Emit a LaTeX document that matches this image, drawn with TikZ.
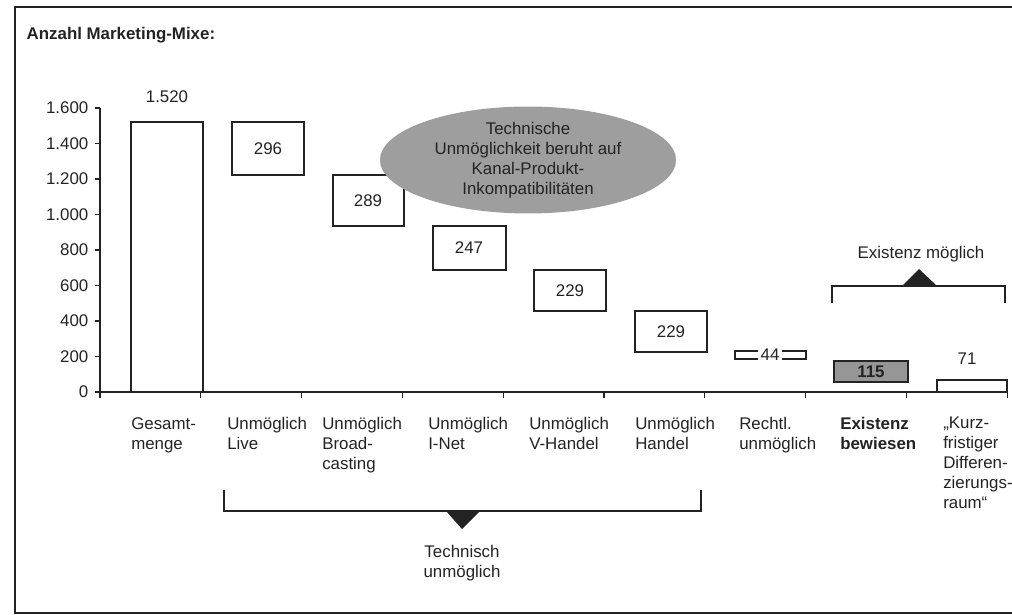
\documentclass[tikz,border=0pt]{standalone}
\usepackage{fontspec}
\setmainfont{Liberation Sans}
\usepackage{xcolor}
\usetikzlibrary{shapes.geometric, positioning}
\definecolor{bargray}{RGB}{150,150,150}
\definecolor{ellgray}{RGB}{158,158,158}
\definecolor{textdark}{RGB}{35,35,35}

\tikzset{
  txt/.style={font=\fontsize{12}{14.2}\selectfont, text=textdark, inner sep=1pt},
  catlabel/.style={txt, anchor=north west, align=left, inner sep=0pt},
  bar/.style={draw=textdark, line width=0.8pt},
  axisline/.style={draw=textdark, line width=0.8pt},
  bracket/.style={draw=textdark, line width=0.8pt}
}

\begin{document}
\begin{tikzpicture}[x=0.025cm, y=-0.025cm]
        \useasboundingbox (0,0) rectangle (1012,615);

        % Frame
        \draw[line width=1.6pt, textdark] (1030,7) -- (15,7) -- (15,613) -- (1030,613);
        \node[txt, font=\fontsize{12}{14.2}\selectfont\bfseries, anchor=base west] (title) at (25,40) {Anzahl Marketing-Mixe:};

        % Axes
        \draw[axisline] (100,108) -- (100,392) -- (1008,392);
        \foreach \v/\t in {0/0, 200/200, 400/400, 600/600, 800/800, 1000/1.000, 1200/1.200, 1400/1.400, 1600/1.600} {
            \draw[axisline] (95,{392-0.1775*\v}) -- (100,{392-0.1775*\v});
            \node[txt, anchor=east] (tick\v) at (90,{392-0.1775*\v}) {\t};
        }
        \foreach \i in {0,...,9} {
            \draw[axisline] ({100+100.8*\i},392) -- ++(0,6);
        }

        % Bars
        \draw[bar, fill=white] (131,122) rectangle (203,392);
        \node[txt] (v1520) at (167,97) {1.520};
        \draw[bar, fill=white] (232,122) rectangle (304,175);
        \node[txt] (v296) at (268,149) {296};
        \draw[bar, fill=white] (333,175) rectangle (404,226);
        \node[txt] (v289) at (368,201) {289};
        \draw[bar, fill=white] (433,226) rectangle (506,270);
        \node[txt] (v247) at (469,248) {247};
        \draw[bar, fill=white] (534,270) rectangle (606,311);
        \node[txt] (v229a) at (570,291) {229};
        \draw[bar, fill=white] (635,311) rectangle (707,352);
        \node[txt] (v229b) at (671,332) {229};
        \draw[bar, fill=white] (735,351) rectangle (806,359);
        \node[txt, fill=white, inner sep=2pt] (v44) at (770,355) {44};
        \draw[bar, fill=bargray] (834,361) rectangle (908,382);
        \node[txt, font=\fontsize{12}{14.2}\selectfont\bfseries] (v115) at (871,371.5) {115};
        \draw[bar, fill=white] (937,380) rectangle (1007,392);
        \node[txt] (v71) at (967,359) {71};

        % Ellipse
        \node[ellipse, fill=ellgray, minimum width=7.4cm, minimum height=2.5cm, align=center,
              font=\fontsize{12}{14.2}\selectfont, text=textdark, inner sep=0pt] (reason) at (528,160)
              {Technische\\Unmöglichkeit beruht auf\\Kanal-Produkt-\\Inkompatibilitäten};

        % Category labels
        \node[catlabel] (cat1) at (131,417) {Gesamt-\\menge};
        \node[catlabel] (cat2) at (227,417) {Unmöglich\\Live};
        \node[catlabel] (cat3) at (322,417) {Unmöglich\\Broad-\\casting};
        \node[catlabel] (cat4) at (428,417) {Unmöglich\\I-Net};
        \node[catlabel] (cat5) at (529,417) {Unmöglich\\V-Handel};
        \node[catlabel] (cat6) at (635,417) {Unmöglich\\Handel};
        \node[catlabel] (cat7) at (739,417) {Rechtl.\\unmöglich};
        \node[catlabel, font=\fontsize{12}{14.2}\selectfont\bfseries] (cat8) at (840,417) {Existenz\\bewiesen};
        \node[catlabel] (cat9) at (943,417) {„Kurz-\\fristiger\\Differen-\\zierungs-\\raum“};

        % Bracket Existenz moeglich
        \coordinate (exL) at (832,303);
        \coordinate (exR) at (1005,303);
        \draw[bracket] (exL) -- (832,286) -- (1005,286) -- (exR);
        \fill[textdark] (902,286) -- (919,269) -- (937,286) -- cycle;
        \node[txt] (exlabel) at (921,254) {Existenz möglich};

        % Bracket Technisch unmoeglich
        \coordinate (tuL) at (224,490);
        \coordinate (tuR) at (701,490);
        \draw[bracket] (tuL) -- (224,511) -- (701,511) -- (tuR);
        \fill[textdark] (446,511) -- (462,529) -- (480,511) -- cycle;
        \node[txt, align=center, anchor=north] (tulabel) at (462,544) {Technisch\\unmöglich};
    \end{tikzpicture}
\end{document}
